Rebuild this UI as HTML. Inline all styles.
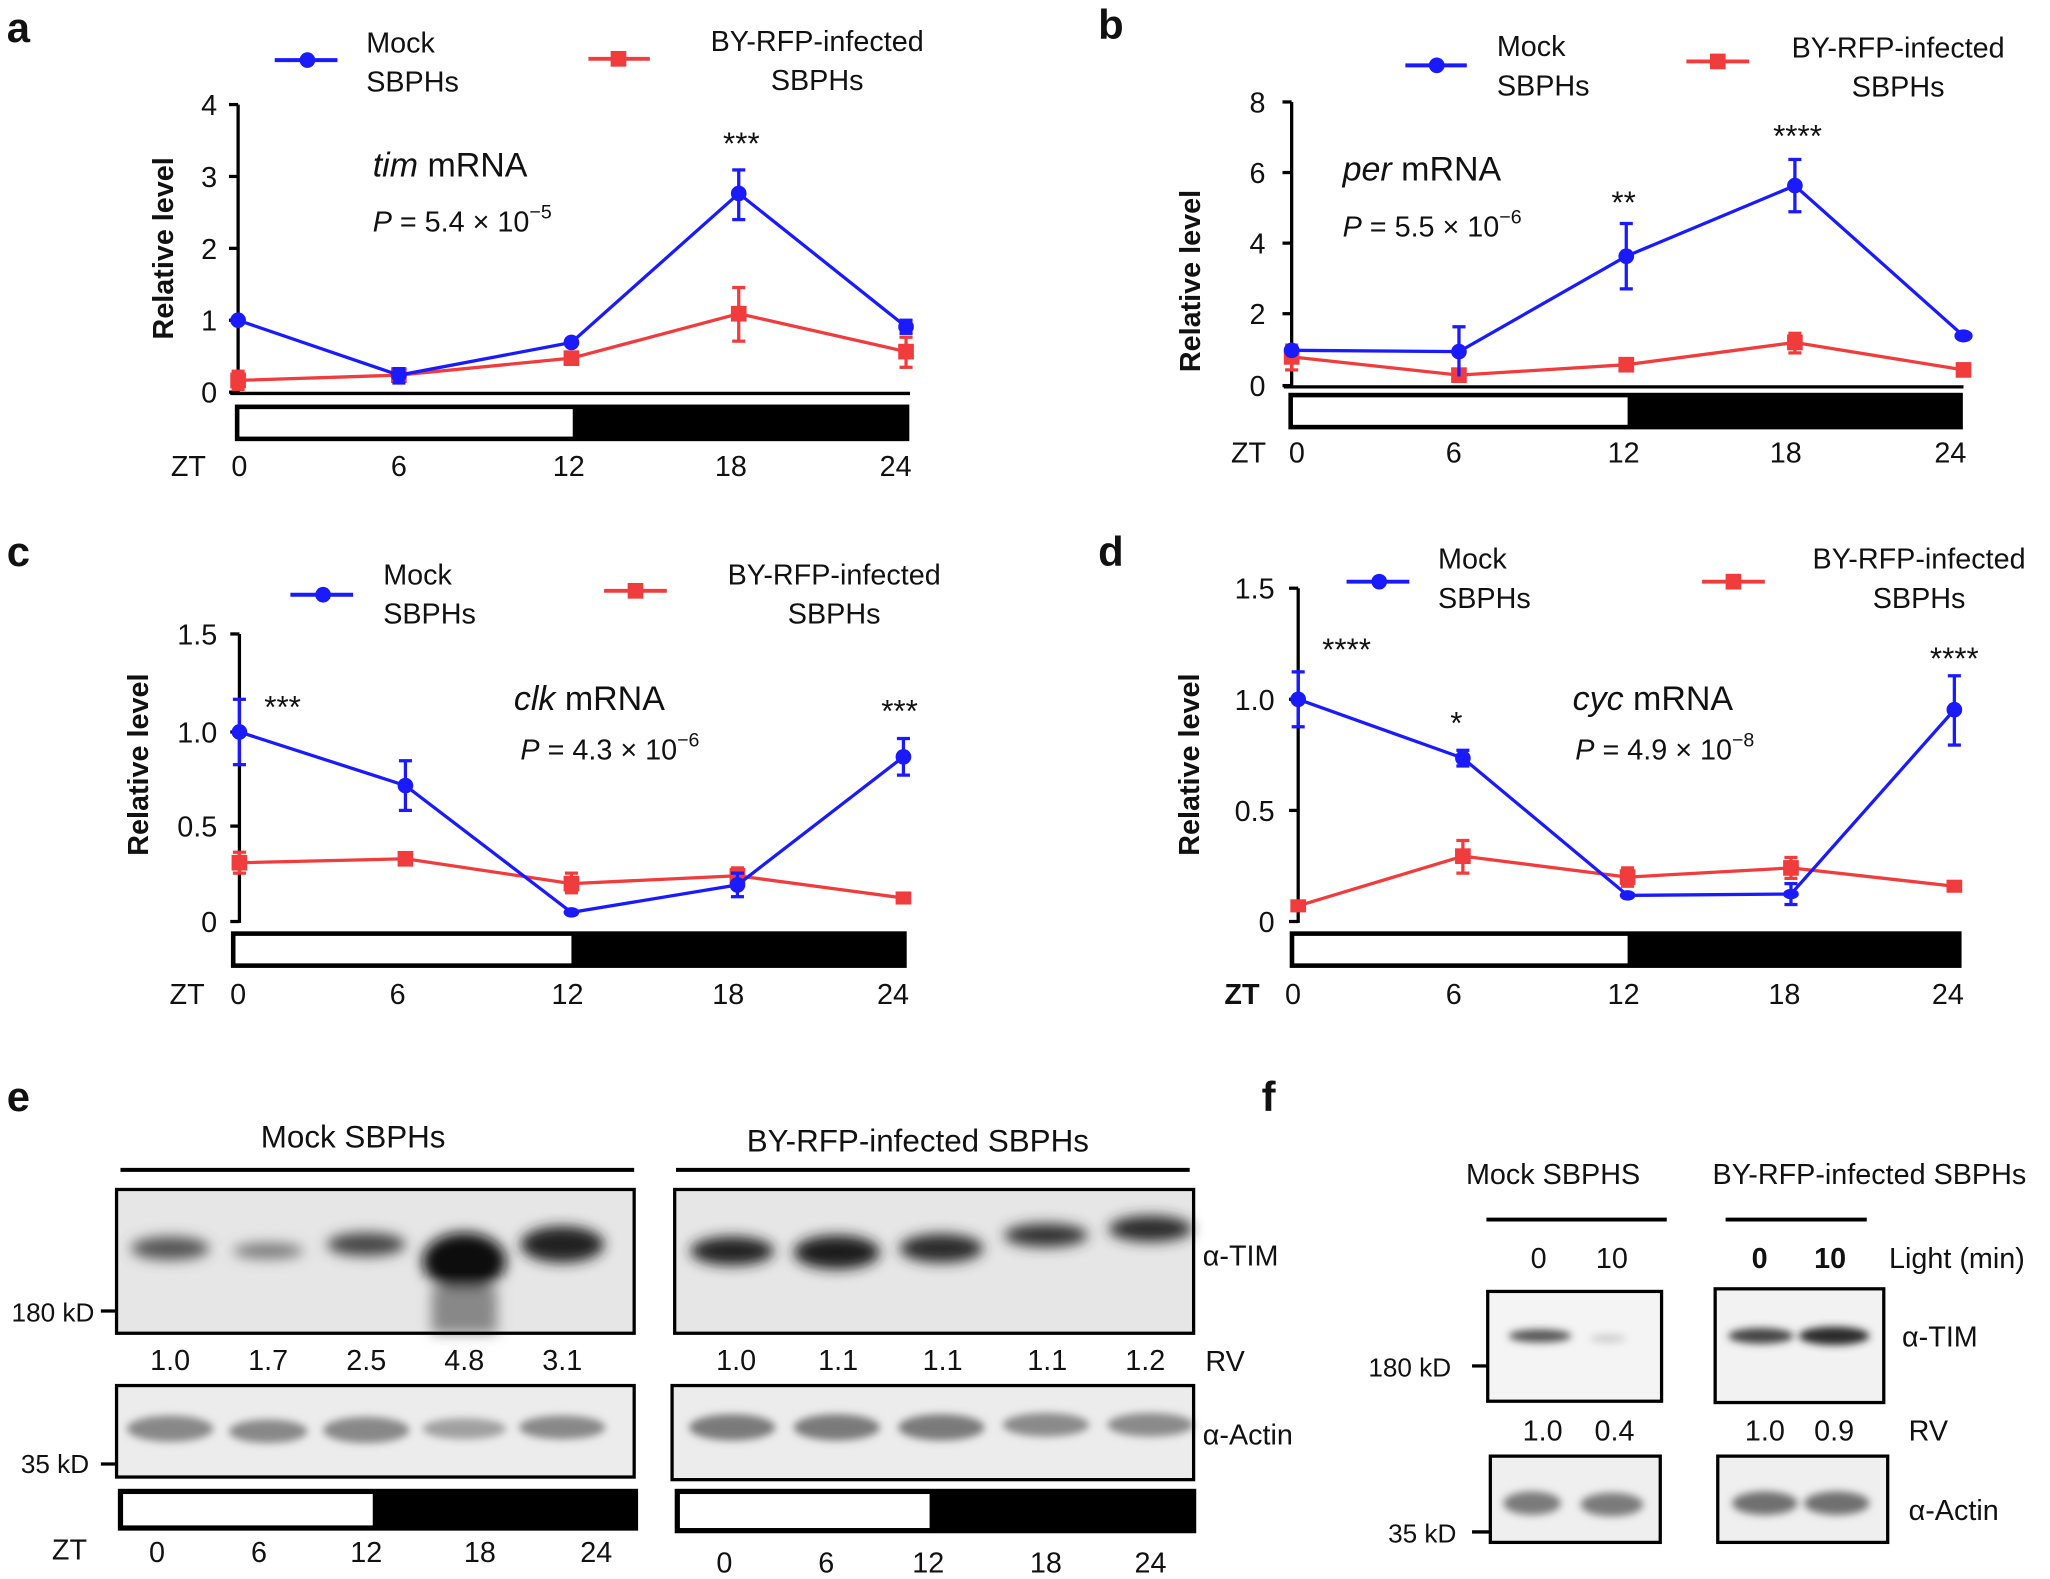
<!DOCTYPE html>
<html><head><meta charset="utf-8"><style>
html,body{margin:0;padding:0;background:#fff}
svg{display:block}
text{font-family:"Liberation Sans",Arial,sans-serif;fill:#111}
</style></head><body>
<svg width="2050" height="1579" viewBox="0 0 1568 1208" xmlns="http://www.w3.org/2000/svg">
<defs>
<filter id="bl" x="-30%" y="-100%" width="160%" height="300%"><feGaussianBlur stdDeviation="5"/></filter>
<filter id="bl2" x="-30%" y="-100%" width="160%" height="300%"><feGaussianBlur stdDeviation="3"/></filter>
</defs>
<rect width="1568" height="1208" fill="#fff"/>

<!-- ================= PANEL A ================= -->
<text x="5" y="32" font-size="32" font-weight="bold">a</text>
<line x1="210" y1="46" x2="258" y2="46" stroke="#1a1aff" stroke-width="3"/><circle cx="235" cy="46" r="6" fill="#1a1aff"/>
<text x="280" y="40" font-size="22">Mock</text><text x="280" y="70" font-size="22">SBPHs</text>
<line x1="450" y1="45" x2="497" y2="45" stroke="#f03c3c" stroke-width="3"/><rect x="467" y="39" width="12" height="12" fill="#f03c3c"/>
<text x="625" y="39" font-size="22" text-anchor="middle">BY-RFP-infected</text><text x="625" y="69" font-size="22" text-anchor="middle">SBPHs</text>
<text transform="translate(132,190) rotate(-90)" font-size="22" font-weight="bold" text-anchor="middle">Relative  level</text>
<g stroke="#000" stroke-width="2.5"><line x1="182" y1="80" x2="182" y2="301"/><line x1="176" y1="301" x2="696" y2="301"/>
<line x1="175" y1="80" x2="182" y2="80"/><line x1="175" y1="135" x2="182" y2="135"/><line x1="175" y1="190" x2="182" y2="190"/><line x1="175" y1="245" x2="182" y2="245"/><line x1="175" y1="300" x2="182" y2="300"/></g>
<g font-size="22" text-anchor="end"><text x="166" y="88">4</text><text x="166" y="143">3</text><text x="166" y="198">2</text><text x="166" y="253">1</text><text x="166" y="308">0</text></g>
<rect x="181" y="311" width="513" height="25" fill="#000" stroke="#000" stroke-width="3"/><rect x="183" y="313" width="255" height="21" fill="#fff"/>
<g font-size="22" text-anchor="middle"><text x="144" y="364">ZT</text><text x="183" y="364">0</text><text x="305" y="364">6</text><text x="435" y="364">12</text><text x="559" y="364">18</text><text x="685" y="364">24</text></g>
<text x="285" y="135" font-size="26"><tspan font-style="italic">tim</tspan> mRNA</text>
<text x="285" y="177" font-size="22"><tspan font-style="italic">P</tspan> = 5.4 × 10<tspan dy="-10" font-size="15">−5</tspan></text>
<text x="567" y="118" font-size="24" text-anchor="middle">***</text>
<polyline points="182,291 305,287 437,274 565,240 693,269" fill="none" stroke="#f03c3c" stroke-width="2.5"/>
<g stroke="#f03c3c" stroke-width="2.5"><line x1="182" y1="284" x2="182" y2="298"/><line x1="177" y1="284" x2="187" y2="284"/><line x1="177" y1="298" x2="187" y2="298"/>
<line x1="565" y1="220" x2="565" y2="261"/><line x1="560" y1="220" x2="570" y2="220"/><line x1="560" y1="261" x2="570" y2="261"/>
<line x1="693" y1="258" x2="693" y2="281"/><line x1="688" y1="258" x2="698" y2="258"/><line x1="688" y1="281" x2="698" y2="281"/></g>
<g fill="#f03c3c"><rect x="176" y="285" width="12" height="12"/><rect x="299" y="281" width="12" height="12"/><rect x="431" y="268" width="12" height="12"/><rect x="559" y="234" width="12" height="12"/><rect x="687" y="263" width="12" height="12"/></g>
<polyline points="182,245 305,287 437,262 565,148 693,250" fill="none" stroke="#1a1aff" stroke-width="2.5"/>
<g stroke="#1a1aff" stroke-width="2.5"><line x1="565" y1="130" x2="565" y2="168"/><line x1="560" y1="130" x2="570" y2="130"/><line x1="560" y1="168" x2="570" y2="168"/>
<line x1="305" y1="282" x2="305" y2="293"/><line x1="300" y1="282" x2="310" y2="282"/><line x1="300" y1="293" x2="310" y2="293"/>
<line x1="693" y1="245" x2="693" y2="255"/><line x1="688" y1="245" x2="698" y2="245"/><line x1="688" y1="255" x2="698" y2="255"/></g>
<g fill="#1a1aff"><circle cx="182" cy="245" r="6"/><circle cx="305" cy="287" r="6"/><circle cx="437" cy="262" r="6"/><circle cx="565" cy="148" r="6"/><circle cx="693" cy="250" r="6"/></g>

<!-- ================= PANEL B ================= -->
<text x="840" y="30" font-size="32" font-weight="bold">b</text>
<line x1="1075" y1="50" x2="1122" y2="50" stroke="#1a1aff" stroke-width="3"/><circle cx="1099" cy="50" r="6" fill="#1a1aff"/>
<text x="1145" y="43" font-size="22">Mock</text><text x="1145" y="73" font-size="22">SBPHs</text>
<line x1="1290" y1="47" x2="1338" y2="47" stroke="#f03c3c" stroke-width="3"/><rect x="1308" y="41" width="12" height="12" fill="#f03c3c"/>
<text x="1452" y="44" font-size="22" text-anchor="middle">BY-RFP-infected</text><text x="1452" y="74" font-size="22" text-anchor="middle">SBPHs</text>
<text transform="translate(918,215) rotate(-90)" font-size="22" font-weight="bold" text-anchor="middle">Relative  level</text>
<g stroke="#000" stroke-width="2.5"><line x1="988" y1="78" x2="988" y2="296"/><line x1="982" y1="296" x2="1502" y2="296"/>
<line x1="981" y1="78" x2="988" y2="78"/><line x1="981" y1="132" x2="988" y2="132"/><line x1="981" y1="186" x2="988" y2="186"/><line x1="981" y1="240" x2="988" y2="240"/><line x1="981" y1="295" x2="988" y2="295"/></g>
<g font-size="22" text-anchor="end"><text x="968" y="86">8</text><text x="968" y="140">6</text><text x="968" y="194">4</text><text x="968" y="248">2</text><text x="968" y="303">0</text></g>
<rect x="987" y="302" width="513" height="25" fill="#000" stroke="#000" stroke-width="3"/><rect x="989" y="304" width="256" height="21" fill="#fff"/>
<g font-size="22" text-anchor="middle"><text x="955" y="354">ZT</text><text x="992" y="354">0</text><text x="1112" y="354">6</text><text x="1242" y="354">12</text><text x="1366" y="354">18</text><text x="1492" y="354">24</text></g>
<text x="1027" y="138" font-size="26"><tspan font-style="italic">per</tspan> mRNA</text>
<text x="1027" y="181" font-size="22"><tspan font-style="italic">P</tspan> = 5.5 × 10<tspan dy="-10" font-size="15">−6</tspan></text>
<text x="1242" y="163" font-size="24" text-anchor="middle">**</text>
<text x="1375" y="112" font-size="24" text-anchor="middle">****</text>
<polyline points="988,273 1116,287 1244,279 1373,262 1502,283" fill="none" stroke="#f03c3c" stroke-width="2.5"/>
<g stroke="#f03c3c" stroke-width="2.5"><line x1="988" y1="264" x2="988" y2="283"/><line x1="983" y1="264" x2="993" y2="264"/><line x1="983" y1="283" x2="993" y2="283"/>
<line x1="1373" y1="255" x2="1373" y2="270"/><line x1="1368" y1="255" x2="1378" y2="255"/><line x1="1368" y1="270" x2="1378" y2="270"/></g>
<g fill="#f03c3c"><rect x="982" y="267" width="12" height="12"/><rect x="1110" y="281" width="12" height="12"/><rect x="1238" y="273" width="12" height="12"/><rect x="1367" y="256" width="12" height="12"/><rect x="1496" y="277" width="12" height="12"/></g>
<polyline points="988,268 1116,269 1244,196 1373,142 1502,257" fill="none" stroke="#1a1aff" stroke-width="2.5"/>
<g stroke="#1a1aff" stroke-width="2.5"><line x1="1116" y1="250" x2="1116" y2="288"/><line x1="1111" y1="250" x2="1121" y2="250"/>
<line x1="1244" y1="171" x2="1244" y2="221"/><line x1="1239" y1="171" x2="1249" y2="171"/><line x1="1239" y1="221" x2="1249" y2="221"/>
<line x1="1373" y1="122" x2="1373" y2="162"/><line x1="1368" y1="122" x2="1378" y2="122"/><line x1="1368" y1="162" x2="1378" y2="162"/></g>
<g fill="#1a1aff"><circle cx="988" cy="268" r="6"/><circle cx="1116" cy="269" r="6"/><circle cx="1244" cy="196" r="6"/><circle cx="1373" cy="142" r="6"/><ellipse cx="1502" cy="257" rx="7" ry="5"/></g>

<!-- ================= PANEL C ================= -->
<text x="5" y="433" font-size="32" font-weight="bold">c</text>
<line x1="222" y1="455" x2="270" y2="455" stroke="#1a1aff" stroke-width="3"/><circle cx="247" cy="455" r="6" fill="#1a1aff"/>
<text x="293" y="447" font-size="22">Mock</text><text x="293" y="477" font-size="22">SBPHs</text>
<line x1="462" y1="452" x2="510" y2="452" stroke="#f03c3c" stroke-width="3"/><rect x="480" y="446" width="12" height="12" fill="#f03c3c"/>
<text x="638" y="447" font-size="22" text-anchor="middle">BY-RFP-infected</text><text x="638" y="477" font-size="22" text-anchor="middle">SBPHs</text>
<text transform="translate(113,585) rotate(-90)" font-size="22" font-weight="bold" text-anchor="middle">Relative  level</text>
<g stroke="#000" stroke-width="2.5"><line x1="183" y1="485" x2="183" y2="706"/>
<line x1="176" y1="485" x2="183" y2="485"/><line x1="176" y1="560" x2="183" y2="560"/><line x1="176" y1="632" x2="183" y2="632"/><line x1="176" y1="705" x2="183" y2="705"/></g>
<g font-size="22" text-anchor="end"><text x="166" y="493">1.5</text><text x="166" y="568">1.0</text><text x="166" y="640">0.5</text><text x="166" y="713">0</text></g>
<rect x="178" y="714" width="514" height="25" fill="#000" stroke="#000" stroke-width="3"/><rect x="180" y="716" width="257" height="21" fill="#fff"/>
<g font-size="22" text-anchor="middle"><text x="143" y="768">ZT</text><text x="182" y="768">0</text><text x="304" y="768">6</text><text x="434" y="768">12</text><text x="557" y="768">18</text><text x="683" y="768">24</text></g>
<text x="393" y="543" font-size="26"><tspan font-style="italic">clk</tspan> mRNA</text>
<text x="398" y="581" font-size="22"><tspan font-style="italic">P</tspan> = 4.3 × 10<tspan dy="-10" font-size="15">−6</tspan></text>
<text x="216" y="549" font-size="24" text-anchor="middle">***</text>
<text x="688" y="552" font-size="24" text-anchor="middle">***</text>
<polyline points="183,660 310,657 437,676 564,670 691,687" fill="none" stroke="#f03c3c" stroke-width="2.5"/>
<g stroke="#f03c3c" stroke-width="2.5"><line x1="183" y1="652" x2="183" y2="668"/><line x1="178" y1="652" x2="188" y2="652"/><line x1="178" y1="668" x2="188" y2="668"/>
<line x1="437" y1="668" x2="437" y2="683"/><line x1="432" y1="668" x2="442" y2="668"/><line x1="432" y1="683" x2="442" y2="683"/>
<line x1="564" y1="664" x2="564" y2="676"/><line x1="559" y1="664" x2="569" y2="664"/><line x1="559" y1="676" x2="569" y2="676"/></g>
<g fill="#f03c3c"><rect x="177" y="654" width="12" height="12"/><rect x="304" y="651" width="12" height="12"/><rect x="431" y="670" width="12" height="12"/><rect x="558" y="664" width="12" height="12"/><rect x="685" y="682" width="12" height="10"/></g>
<polyline points="183,560 310,601 437,698 564,677 691,579" fill="none" stroke="#1a1aff" stroke-width="2.5"/>
<g stroke="#1a1aff" stroke-width="2.5"><line x1="183" y1="535" x2="183" y2="585"/><line x1="178" y1="535" x2="188" y2="535"/><line x1="178" y1="585" x2="188" y2="585"/>
<line x1="310" y1="582" x2="310" y2="620"/><line x1="305" y1="582" x2="315" y2="582"/><line x1="305" y1="620" x2="315" y2="620"/>
<line x1="564" y1="668" x2="564" y2="686"/><line x1="559" y1="668" x2="569" y2="668"/><line x1="559" y1="686" x2="569" y2="686"/>
<line x1="691" y1="565" x2="691" y2="593"/><line x1="686" y1="565" x2="696" y2="565"/><line x1="686" y1="593" x2="696" y2="593"/></g>
<g fill="#1a1aff"><circle cx="183" cy="560" r="6"/><circle cx="310" cy="601" r="6"/><ellipse cx="437" cy="698" rx="6" ry="4"/><circle cx="564" cy="677" r="6"/><circle cx="691" cy="579" r="6"/></g>

<!-- ================= PANEL D ================= -->
<text x="840" y="433" font-size="32" font-weight="bold">d</text>
<line x1="1030" y1="445" x2="1078" y2="445" stroke="#1a1aff" stroke-width="3"/><circle cx="1055" cy="445" r="6" fill="#1a1aff"/>
<text x="1100" y="435" font-size="22">Mock</text><text x="1100" y="465" font-size="22">SBPHs</text>
<line x1="1302" y1="445" x2="1350" y2="445" stroke="#f03c3c" stroke-width="3"/><rect x="1320" y="439" width="12" height="12" fill="#f03c3c"/>
<text x="1468" y="435" font-size="22" text-anchor="middle">BY-RFP-infected</text><text x="1468" y="465" font-size="22" text-anchor="middle">SBPHs</text>
<text transform="translate(917,585) rotate(-90)" font-size="22" font-weight="bold" text-anchor="middle">Relative  level</text>
<g stroke="#000" stroke-width="2.5"><line x1="993" y1="450" x2="993" y2="706"/>
<line x1="986" y1="450" x2="993" y2="450"/><line x1="986" y1="535" x2="993" y2="535"/><line x1="986" y1="620" x2="993" y2="620"/><line x1="986" y1="705" x2="993" y2="705"/></g>
<g font-size="22" text-anchor="end"><text x="975" y="458">1.5</text><text x="975" y="543">1.0</text><text x="975" y="628">0.5</text><text x="975" y="713">0</text></g>
<rect x="988" y="714" width="511" height="25" fill="#000" stroke="#000" stroke-width="3"/><rect x="990" y="716" width="255" height="21" fill="#fff"/>
<g font-size="22" text-anchor="middle"><text x="950" y="768" font-weight="bold">ZT</text><text x="989" y="768">0</text><text x="1112" y="768">6</text><text x="1242" y="768">12</text><text x="1365" y="768">18</text><text x="1490" y="768">24</text></g>
<text x="1203" y="543" font-size="26"><tspan font-style="italic">cyc</tspan> mRNA</text>
<text x="1205" y="581" font-size="22"><tspan font-style="italic">P</tspan> = 4.9 × 10<tspan dy="-10" font-size="15">−8</tspan></text>
<text x="1030" y="505" font-size="24" text-anchor="middle">****</text>
<text x="1114" y="561" font-size="24" text-anchor="middle">*</text>
<text x="1495" y="512" font-size="24" text-anchor="middle">****</text>
<polyline points="993,693 1119,655 1245,671 1370,664 1495,678" fill="none" stroke="#f03c3c" stroke-width="2.5"/>
<g stroke="#f03c3c" stroke-width="2.5"><line x1="1119" y1="643" x2="1119" y2="668"/><line x1="1114" y1="643" x2="1124" y2="643"/><line x1="1114" y1="668" x2="1124" y2="668"/>
<line x1="1245" y1="664" x2="1245" y2="678"/><line x1="1240" y1="664" x2="1250" y2="664"/><line x1="1240" y1="678" x2="1250" y2="678"/>
<line x1="1370" y1="656" x2="1370" y2="672"/><line x1="1365" y1="656" x2="1375" y2="656"/><line x1="1365" y1="672" x2="1375" y2="672"/></g>
<g fill="#f03c3c"><rect x="987" y="688" width="12" height="10"/><rect x="1113" y="649" width="12" height="12"/><rect x="1239" y="665" width="12" height="12"/><rect x="1364" y="658" width="12" height="12"/><rect x="1489" y="673" width="12" height="10"/></g>
<polyline points="993,535 1119,580 1245,685 1370,684 1495,543" fill="none" stroke="#1a1aff" stroke-width="2.5"/>
<g stroke="#1a1aff" stroke-width="2.5"><line x1="993" y1="514" x2="993" y2="556"/><line x1="988" y1="514" x2="998" y2="514"/><line x1="988" y1="556" x2="998" y2="556"/>
<line x1="1119" y1="574" x2="1119" y2="586"/><line x1="1114" y1="574" x2="1124" y2="574"/><line x1="1114" y1="586" x2="1124" y2="586"/>
<line x1="1370" y1="676" x2="1370" y2="692"/><line x1="1365" y1="676" x2="1375" y2="676"/><line x1="1365" y1="692" x2="1375" y2="692"/>
<line x1="1495" y1="517" x2="1495" y2="570"/><line x1="1490" y1="517" x2="1500" y2="517"/><line x1="1490" y1="570" x2="1500" y2="570"/></g>
<g fill="#1a1aff"><circle cx="993" cy="535" r="6"/><circle cx="1119" cy="580" r="6"/><ellipse cx="1245" cy="685" rx="6" ry="4"/><ellipse cx="1370" cy="684" rx="6" ry="4"/><circle cx="1495" cy="543" r="6"/></g>

<!-- ================= PANEL E ================= -->
<text x="5" y="850" font-size="32" font-weight="bold">e</text>
<text x="270" y="878" font-size="24" text-anchor="middle">Mock SBPHs</text>
<line x1="92" y1="895" x2="485" y2="895" stroke="#000" stroke-width="3"/>
<text x="702" y="881" font-size="24" text-anchor="middle">BY-RFP-infected SBPHs</text>
<line x1="517" y1="895" x2="910" y2="895" stroke="#000" stroke-width="3"/>
<!-- left TIM blot -->
<rect x="89" y="910" width="396" height="110" fill="#e6e6e6"/>
<g filter="url(#bl)">
<ellipse cx="130" cy="955" rx="30" ry="9" fill="#555"/>
<ellipse cx="205" cy="957" rx="27" ry="6" fill="#777"/>
<ellipse cx="280" cy="952" rx="30" ry="9" fill="#444"/>
<ellipse cx="355" cy="965" rx="32" ry="22" fill="#111"/>
<rect x="330" y="985" width="50" height="35" fill="#888"/>
<ellipse cx="430" cy="952" rx="32" ry="14" fill="#222"/>
</g>
<rect x="89" y="910" width="396" height="110" fill="none" stroke="#000" stroke-width="2.5"/>
<!-- right TIM blot -->
<rect x="516" y="910" width="397" height="110" fill="#e6e6e6"/>
<g filter="url(#bl)">
<ellipse cx="560" cy="957" rx="32" ry="11" fill="#222"/>
<ellipse cx="640" cy="958" rx="33" ry="13" fill="#1a1a1a"/>
<ellipse cx="720" cy="955" rx="32" ry="11" fill="#2a2a2a"/>
<ellipse cx="800" cy="945" rx="32" ry="9" fill="#333"/>
<ellipse cx="880" cy="940" rx="32" ry="10" fill="#2a2a2a"/>
</g>
<rect x="516" y="910" width="397" height="110" fill="none" stroke="#000" stroke-width="2.5"/>
<text x="920" y="968" font-size="22">α-TIM</text>
<text x="72" y="1011" font-size="20" text-anchor="end">180 kD</text>
<line x1="77" y1="1003" x2="89" y2="1003" stroke="#000" stroke-width="2.5"/>
<g font-size="22" text-anchor="middle"><text x="130" y="1048">1.0</text><text x="205" y="1048">1.7</text><text x="280" y="1048">2.5</text><text x="355" y="1048">4.8</text><text x="430" y="1048">3.1</text>
<text x="563" y="1048">1.0</text><text x="641" y="1048">1.1</text><text x="721" y="1048">1.1</text><text x="801" y="1048">1.1</text><text x="876" y="1048">1.2</text></g>
<text x="922" y="1049" font-size="22">RV</text>
<!-- actin blots -->
<rect x="89" y="1060" width="396" height="70" fill="#ececec"/>
<g filter="url(#bl2)" fill="#888">
<ellipse cx="130" cy="1093" rx="33" ry="10"/><ellipse cx="205" cy="1095" rx="30" ry="9"/><ellipse cx="280" cy="1094" rx="33" ry="10"/><ellipse cx="355" cy="1093" rx="32" ry="8" fill="#a0a0a0"/><ellipse cx="430" cy="1092" rx="33" ry="9"/>
</g>
<rect x="89" y="1060" width="396" height="70" fill="none" stroke="#000" stroke-width="2.5"/>
<rect x="514" y="1060" width="399" height="72" fill="#ececec"/>
<g filter="url(#bl2)" fill="#7a7a7a">
<ellipse cx="560" cy="1092" rx="33" ry="10"/><ellipse cx="640" cy="1092" rx="33" ry="10"/><ellipse cx="720" cy="1092" rx="33" ry="10"/><ellipse cx="800" cy="1090" rx="33" ry="9" fill="#8a8a8a"/><ellipse cx="880" cy="1090" rx="33" ry="9" fill="#8a8a8a"/>
</g>
<rect x="514" y="1060" width="399" height="72" fill="none" stroke="#000" stroke-width="2.5"/>
<text x="920" y="1105" font-size="22">α-Actin</text>
<text x="68" y="1127" font-size="20" text-anchor="end">35 kD</text>
<line x1="77" y1="1120" x2="89" y2="1120" stroke="#000" stroke-width="2.5"/>
<rect x="91" y="1140" width="396" height="30" fill="#000" stroke="#000" stroke-width="2"/><rect x="94" y="1143" width="191" height="24" fill="#fff"/>
<rect x="517" y="1140" width="397" height="32" fill="#000" stroke="#000" stroke-width="2"/><rect x="520" y="1143" width="191" height="26" fill="#fff"/>
<g font-size="22" text-anchor="middle"><text x="53" y="1193">ZT</text><text x="120" y="1195">0</text><text x="198" y="1195">6</text><text x="280" y="1195">12</text><text x="367" y="1195">18</text><text x="456" y="1195">24</text>
<text x="554" y="1203">0</text><text x="632" y="1203">6</text><text x="710" y="1203">12</text><text x="800" y="1203">18</text><text x="880" y="1203">24</text></g>

<!-- ================= PANEL F ================= -->
<text x="965" y="850" font-size="32" font-weight="bold">f</text>
<text x="1188" y="906" font-size="22" text-anchor="middle">Mock  SBPHS</text>
<line x1="1137" y1="933" x2="1275" y2="933" stroke="#000" stroke-width="3"/>
<text x="1430" y="906" font-size="22" text-anchor="middle">BY-RFP-infected  SBPHs</text>
<line x1="1320" y1="933" x2="1428" y2="933" stroke="#000" stroke-width="3"/>
<g font-size="22" text-anchor="middle"><text x="1177" y="970">0</text><text x="1233" y="970">10</text><text x="1346" y="970" font-weight="bold">0</text><text x="1400" y="970" font-weight="bold">10</text></g>
<text x="1445" y="970" font-size="22">Light  (min)</text>
<rect x="1138" y="988" width="133" height="84" fill="#f4f4f4"/>
<g filter="url(#bl2)"><ellipse cx="1178" cy="1022" rx="24" ry="5" fill="#555"/><ellipse cx="1230" cy="1024" rx="14" ry="3" fill="#ccc"/></g>
<rect x="1138" y="988" width="133" height="84" fill="none" stroke="#000" stroke-width="2.5"/>
<rect x="1312" y="986" width="129" height="87" fill="#f2f2f2"/>
<g filter="url(#bl2)"><ellipse cx="1347" cy="1022" rx="25" ry="6" fill="#444"/><ellipse cx="1403" cy="1022" rx="27" ry="7" fill="#2a2a2a"/></g>
<rect x="1312" y="986" width="129" height="87" fill="none" stroke="#000" stroke-width="2.5"/>
<text x="1455" y="1030" font-size="22">α-TIM</text>
<text x="1110" y="1053" font-size="20" text-anchor="end">180 kD</text>
<line x1="1126" y1="1045" x2="1138" y2="1045" stroke="#000" stroke-width="2.5"/>
<g font-size="22" text-anchor="middle"><text x="1180" y="1102">1.0</text><text x="1235" y="1102">0.4</text><text x="1350" y="1102">1.0</text><text x="1403" y="1102">0.9</text></g>
<text x="1460" y="1102" font-size="22">RV</text>
<rect x="1140" y="1114" width="130" height="66" fill="#efefef"/>
<g filter="url(#bl2)" fill="#7a7a7a"><ellipse cx="1172" cy="1150" rx="22" ry="9"/><ellipse cx="1233" cy="1151" rx="24" ry="9"/></g>
<rect x="1140" y="1114" width="130" height="66" fill="none" stroke="#000" stroke-width="2.5"/>
<rect x="1314" y="1114" width="130" height="66" fill="#efefef"/>
<g filter="url(#bl2)" fill="#707070"><ellipse cx="1350" cy="1150" rx="25" ry="9"/><ellipse cx="1405" cy="1150" rx="25" ry="9"/></g>
<rect x="1314" y="1114" width="130" height="66" fill="none" stroke="#000" stroke-width="2.5"/>
<text x="1460" y="1163" font-size="22">α-Actin</text>
<text x="1114" y="1180" font-size="20" text-anchor="end">35 kD</text>
<line x1="1126" y1="1172" x2="1140" y2="1172" stroke="#000" stroke-width="2.5"/>
</svg>
</body></html>
